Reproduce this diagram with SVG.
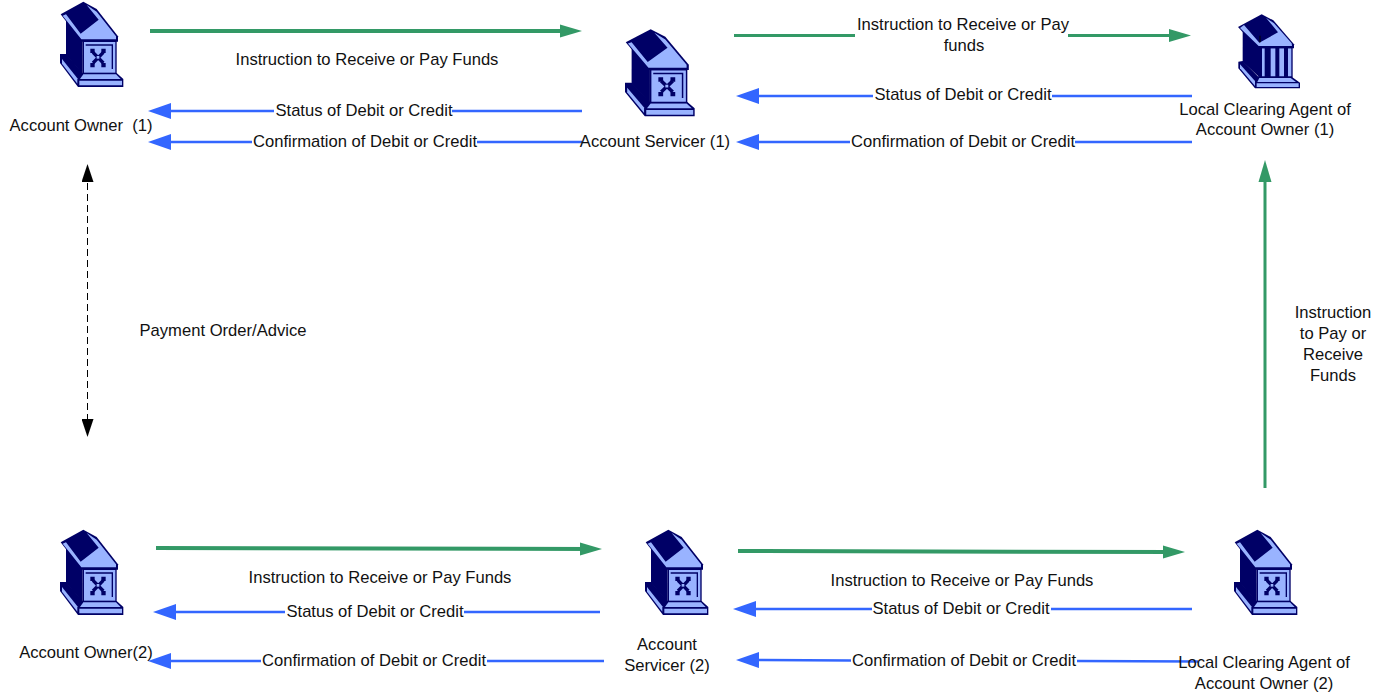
<svg xmlns="http://www.w3.org/2000/svg" width="1389" height="692" viewBox="0 0 1389 692">
<style>
text{font-family:"Liberation Sans",Arial,sans-serif;font-size:16.6px;fill:#111;text-anchor:middle;white-space:pre}
.g{stroke:#339966;stroke-width:3;fill:none}
.t{stroke-width:4}
.b{stroke:#3366ff;stroke-width:2.4;fill:none}
.d{stroke:#000;stroke-width:1;stroke-dasharray:7 4;fill:none}
.n{fill:#000066}.l{fill:#99b3ff}
</style>
<defs>
<marker id="ag" markerUnits="userSpaceOnUse" markerWidth="24" markerHeight="14" refX="10" refY="7" orient="auto"><path d="M0 0.500L22 7L0 13.500Z" fill="#339966"/></marker>
<marker id="ab" markerUnits="userSpaceOnUse" markerWidth="24" markerHeight="18" refX="10" refY="8" orient="auto"><path d="M0 0L23 8L0 16Z" fill="#3366ff"/></marker>
<marker id="ak" markerUnits="userSpaceOnUse" markerWidth="18" markerHeight="12" refX="10" refY="6" orient="auto-start-reverse"><path d="M0 0L18 6L0 12Z" fill="#000"/></marker>
<symbol id="bank" width="110" height="100" viewBox="0 0 330 300" overflow="visible">
<path class="n" d="M60 165L78 165L128 222H230L250 240V264H114L60 192Z"/>
<path class="l" d="M66 180L112 238V254L66 194Z"/>
<path class="l" d="M130 226H228L242 240H120Z"/>
<path class="l" d="M118 245H246V259H118Z"/>
<path class="n" d="M78 60L128 125V225L78 168Z"/>
<path class="n" d="M62 46L130 8L170 30L234 112V128H125Z"/>
<path class="l" d="M68 50L124 121H228L228 112L170 38L140 18L176 62L122 104L78 46Z"/>
<rect class="n" x="128" y="125" width="102" height="100"/>
<rect class="l" x="132" y="129" width="94" height="92"/>
<path d="M137 138H217V210" stroke="#000066" stroke-width="4" fill="none"/>
<path d="M159 160L190 192M190 160L159 192" stroke="#000066" stroke-width="10" fill="none"/>
<path class="n" d="M151 149H164V162H151ZM184 149H197V162H184ZM151 192H164V205H151ZM184 192H197V205H184Z"/>
<rect class="l" x="170" y="171" width="8" height="8"/>
</symbol>
<symbol id="temple" width="100" height="100" viewBox="0 0 300 300" overflow="visible">
<path class="n" d="M55 170L68 168L115 215H215L240 233V250H105L55 190Z"/>
<path class="l" d="M60 178L105 228V243L60 190Z"/>
<path class="l" d="M118 219H212L228 231H112Z"/>
<path class="l" d="M110 235H236V246H110Z"/>
<path class="n" d="M68 60L120 125V218L68 170Z"/>
<path class="n" d="M115 125H218V218H115Z"/>
<path class="l" d="M126 130H134V214H126ZM152 130H166V214H152ZM178 130H192V214H178ZM204 130H214V214H204Z"/>
<path class="n" d="M54 66L125 28L160 46L222 118V130H112Z"/>
<path class="l" d="M60 69L116 123H216L215 115L162 55L138 38L174 82L118 113L72 60Z"/>
<path d="M120 92V112" stroke="#000" stroke-width="3"/>
</symbol>
</defs>
<g id="connectors">
<path class="g t" d="M150 31H570" marker-end="url(#ag)"/>
<path class="b" d="M582 111H452"/><path class="b" d="M274 111H161" marker-end="url(#ab)"/>
<path class="b" d="M582 142H477"/><path class="b" d="M252 142H161" marker-end="url(#ab)"/>
<path class="g" d="M734 35.500H855"/><path class="g" d="M1068 35.500H1179" marker-end="url(#ag)"/>
<path class="b" d="M1192 96H1052"/><path class="b" d="M873 96H749" marker-end="url(#ab)"/>
<path class="b" d="M1192 142H1075"/><path class="b" d="M850 142H749" marker-end="url(#ab)"/>
<path class="d" d="M87.500 172V429" marker-start="url(#ak)" marker-end="url(#ak)"/>
<path class="g" d="M1265 488V172" marker-end="url(#ag)"/>
<path class="g t" d="M156 548L590 549" marker-end="url(#ag)"/>
<path class="b" d="M600 612H464"/><path class="b" d="M285 612H166" marker-end="url(#ab)"/>
<path class="b" d="M604 661H487"/><path class="b" d="M261 661H161" marker-end="url(#ab)"/>
<path class="g t" d="M738 551L1173 552" marker-end="url(#ag)"/>
<path class="b" d="M1192 609H1051"/><path class="b" d="M872 609H746" marker-end="url(#ab)"/>
<path class="b" d="M1198 661.500L1077 661"/><path class="b" d="M851 660.500L749 660" marker-end="url(#ab)"/>
</g>
<g id="account-owner-1"><use href="#bank" transform="translate(40 -1)"/><text x="81" y="130.500">Account Owner  (1)</text></g>
<g id="account-servicer-1"><use href="#bank" transform="translate(603 26.600) scale(1.1 1.02)"/><text x="655" y="146.500">Account Servicer (1)</text></g>
<g id="clearing-agent-1"><use href="#temple" transform="translate(1220 5)"/><text x="1265" y="114.500">Local Clearing Agent of</text><text x="1265" y="134.500">Account Owner (1)</text></g>
<g id="account-owner-2"><use href="#bank" transform="translate(40 527)"/><text x="86" y="657.500">Account Owner(2)</text></g>
<g id="account-servicer-2"><use href="#bank" transform="translate(625 527)"/><text x="667" y="649.500">Account</text><text x="667" y="670.500">Servicer (2)</text></g>
<g id="clearing-agent-2"><use href="#bank" transform="translate(1214 527)"/><text x="1264" y="667.500">Local Clearing Agent of</text><text x="1264" y="688.500">Account Owner (2)</text></g>
<g id="labels">
<text x="367" y="64.500">Instruction to Receive or Pay Funds</text>
<text x="364" y="115.500">Status of Debit or Credit</text>
<text x="365" y="146.500">Confirmation of Debit or Credit</text>
<text x="963" y="29.500">Instruction to Receive or Pay</text><text x="964" y="50.500">funds</text>
<text x="963" y="99.500">Status of Debit or Credit</text>
<text x="963" y="146.500">Confirmation of Debit or Credit</text>
<text x="223" y="335.500">Payment Order/Advice</text>
<text x="1333" y="317.500">Instruction</text><text x="1333" y="338.500">to Pay or</text><text x="1333" y="359.500">Receive</text><text x="1333" y="380.500">Funds</text>
<text x="380" y="582.500">Instruction to Receive or Pay Funds</text>
<text x="375" y="616.500">Status of Debit or Credit</text>
<text x="374" y="665.500">Confirmation of Debit or Credit</text>
<text x="962" y="585.500">Instruction to Receive or Pay Funds</text>
<text x="961" y="613.500">Status of Debit or Credit</text>
<text x="964" y="665.500">Confirmation of Debit or Credit</text>
</g>
</svg>
